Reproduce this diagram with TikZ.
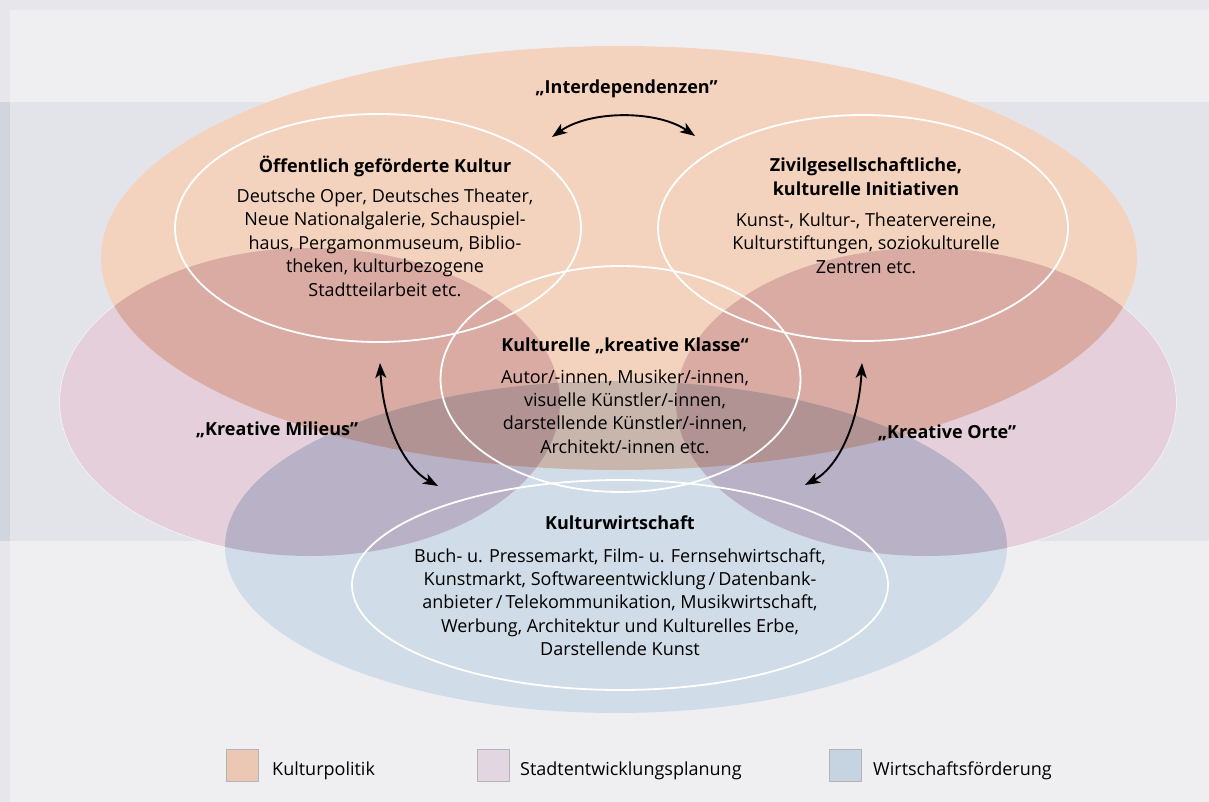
\documentclass[tikz,border=0pt]{standalone}
\usepackage{fontspec}
\setmainfont{Open Sans}
\usetikzlibrary{arrows.meta,shapes.geometric}

\definecolor{frame}{HTML}{E6E6EB}
\definecolor{bandlight}{HTML}{EFEFF1}
\definecolor{bandmid}{HTML}{E3E4E9}
\definecolor{strip}{HTML}{D1D5DE}
\definecolor{kultur}{HTML}{F4D3BE}
\definecolor{stadt}{HTML}{E5CFDA}
\definecolor{wirt}{HTML}{D0DCE7}
\definecolor{kulturstadt}{HTML}{DAABA2}
\definecolor{stadtwirt}{HTML}{B9B1C6}
\definecolor{kulturwirt}{HTML}{C8B6AC}
\definecolor{alle}{HTML}{B19393}
\definecolor{keyK}{HTML}{EAC8B4}
\definecolor{keyS}{HTML}{E2D6E0}
\definecolor{keyW}{HTML}{C6D4E1}
\definecolor{keyrule}{HTML}{B4B4B8}

% policy areas
\def\kulturarea{(619,258) ellipse [x radius=518, y radius=212]}
\def\stadtarea{(310,402) ellipse [x radius=250, y radius=154] (926,402) ellipse [x radius=250, y radius=154]}
\def\wirtarea{(616,547) ellipse [x radius=391, y radius=166]}

\newcommand\headstrut{\rule{0pt}{17pt}}

\tikzset{
  ring/.style={ellipse, draw=white, line width=1.8pt, inner sep=0pt},
  body/.style={font=\fontsize{18}{23.4}\selectfont, align=center, inner sep=0pt, anchor=north},
  catch/.style={font=\fontsize{18}{22}\selectfont\bfseries, inner sep=0pt, anchor=base},
  keybox/.style={draw=keyrule, line width=1.2pt, minimum width=32pt, minimum height=32pt, inner sep=0pt},
  keytext/.style={font=\fontsize{18}{22}\selectfont, inner sep=0pt, anchor=base west},
  link/.style={line width=1.9pt, >={Stealth[length=15pt,width=11pt,inset=4pt]}, <->}
}

\begin{document}
\begin{tikzpicture}[x=1pt, y=-1pt]
\useasboundingbox (0,0) rectangle (1209,802);

% page background and bands
\fill[frame] (0,0) rectangle (1209,802);
\fill[bandlight] (10,10) rectangle (1209,102);
\fill[bandmid] (10,102) rectangle (1209,541);
\fill[strip] (0,102) rectangle (10,541);
\fill[bandlight] (10,541) rectangle (1209,802);

% overlapping policy areas
\draw[white, opacity=0.8, line width=1.2pt] \stadtarea;
\fill[kultur] \kulturarea;
\fill[stadt] \stadtarea;
\fill[wirt] \wirtarea;
\begin{scope}
  \clip \kulturarea;
  \fill[kulturstadt] \stadtarea;
\end{scope}
\begin{scope}
  \clip \kulturarea;
  \fill[kulturwirt] \wirtarea;
\end{scope}
\begin{scope}
  \clip \stadtarea;
  \fill[stadtwirt] \wirtarea;
\end{scope}
\begin{scope}
  \clip \kulturarea;
  \clip \stadtarea;
  \fill[alle] \wirtarea;
\end{scope}

% fields
\node[ring, minimum width=406pt, minimum height=228pt] (oeff) at (378,228) {};
\node[ring, minimum width=410pt, minimum height=226pt] (zivil) at (863,228) {};
\node[ring, minimum width=360pt, minimum height=226pt] (klasse) at (620.5,379) {};
\node[ring, minimum width=536pt, minimum height=210pt] (wirtschaft) at (620,585) {};

\node[body] (oefftext) at (385,155) {\headstrut\textbf{Öffentlich geförderte Kultur}\\[7pt]
  Deutsche Oper, Deutsches Theater,\\
  Neue Nationalgalerie, Schauspiel-\\
  haus, Pergamonmuseum, Biblio-\\
  theken, kulturbezogene\\
  Stadtteilarbeit etc.};

\node[body] (ziviltext) at (866,154.5) {\headstrut\textbf{Zivilgesellschaftliche,}\\
  \textbf{kulturelle Initiativen}\\[8pt]
  Kunst-, Kultur-, Theatervereine,\\
  Kulturstiftungen, soziokulturelle\\
  Zentren etc.};

\node[body] (klassetext) at (625,334) {\headstrut\textbf{Kulturelle „kreative Klasse“}\\[8.5pt]
  Autor/-innen, Musiker/-innen,\\
  visuelle Künstler/-innen,\\
  darstellende Künstler/-innen,\\
  Architekt/-innen etc.};

\node[body] (wirttext) at (620,512) {\headstrut\textbf{Kulturwirtschaft}\\[9.5pt]
  Buch- u. Pressemarkt, Film- u. Fernsehwirtschaft,\\
  Kunstmarkt, Softwareentwicklung\,/\,Datenbank-\\
  anbieter\,/\,Telekommunikation, Musikwirtschaft,\\
  Werbung, Architektur und Kulturelles Erbe,\\
  Darstellende Kunst};

% relations
\node[catch] (inter) at (626.5,94) {„Interdependenzen”};
\node[catch] (milieus) at (277,435.5) {„Kreative Milieus”};
\node[catch] (orte) at (947,438.5) {„Kreative Orte”};

\coordinate (interL) at (552,137);
\coordinate (interR) at (695,136);
\coordinate (milieuT) at (380,363);
\coordinate (milieuB) at (438,486);
\coordinate (orteT) at (862,363);
\coordinate (orteB) at (805,485);

\draw[link] (interL) .. controls (590,110) and (657,110) .. (interR);
\draw[link] (milieuT) .. controls (383,420) and (402,466) .. (milieuB);
\draw[link] (orteT) .. controls (859,420) and (840,466) .. (orteB);

% key
\node[keybox, fill=keyK] (keyK) at (242.5,765.5) {};
\node[keybox, fill=keyS] (keyS) at (493.5,765.5) {};
\node[keybox, fill=keyW] (keyW) at (845.5,765.5) {};
\node[keytext] (keyKtext) at (272,775) {Kulturpolitik};
\node[keytext] (keyStext) at (520,775) {Stadtentwicklungsplanung};
\node[keytext] (keyWtext) at (873,775) {Wirtschaftsförderung};
\end{tikzpicture}
\end{document}
